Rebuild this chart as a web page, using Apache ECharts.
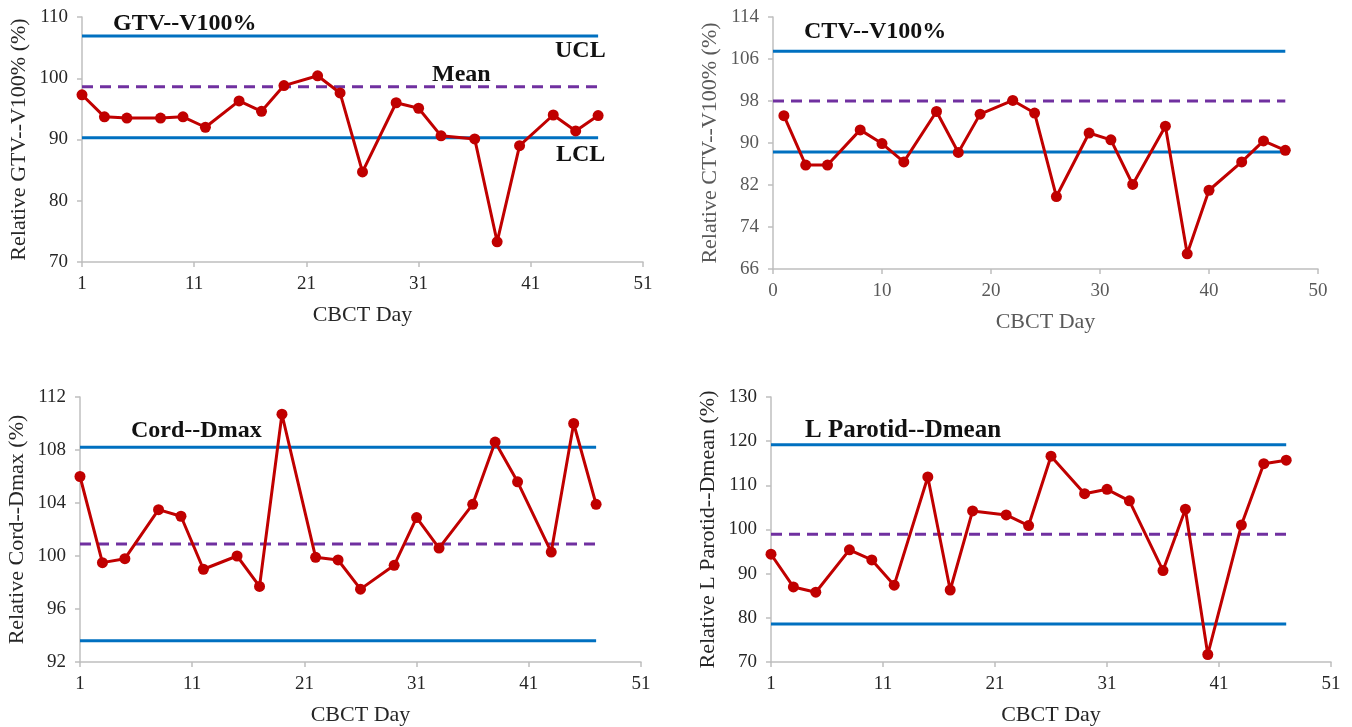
<!DOCTYPE html>
<html>
<head>
<meta charset="utf-8">
<title>CBCT control charts</title>
<script src="https://cdn.jsdelivr.net/npm/echarts@6/dist/echarts.min.js"></script>
<style>
    html, body { margin: 0; padding: 0; background: #fff; }
    #main { width: 1352px; height: 727px; }
</style>
</head>
<body>
<div id="main"></div>
<script>
// CBCT day of each measurement
var days = [1, 3, 5, 8, 10, 12, 15, 17, 19, 22, 24, 26, 29, 31, 33, 36, 38, 40, 43, 45, 47];

// relative values (%)
var gtvV100 = [97.3, 93.7, 93.5, 93.5, 93.7, 92.0, 96.3, 94.6, 98.8, 100.4, 97.6, 84.7, 96.0, 95.1, 90.6, 90.1, 73.3, 89.0, 94.0, 91.4, 93.9];
var ctvV100 = [95.2, 85.8, 85.8, 92.5, 89.9, 86.4, 96.0, 88.2, 95.5, 98.1, 95.7, 79.8, 91.9, 90.6, 82.1, 93.2, 68.9, 81.0, 86.4, 90.4, 88.6];
var cordDmax = [106.0, 99.5, 99.8, 103.5, 103.0, 99.0, 100.0, 97.7, 110.7, 99.9, 99.7, 97.5, 99.3, 102.9, 100.6, 103.9, 108.6, 105.6, 100.3, 110.0, 103.9];
var lParotidDmean = [94.4, 87.0, 85.8, 95.4, 93.1, 87.4, 111.9, 86.3, 104.2, 103.3, 100.9, 116.6, 108.1, 109.1, 106.5, 90.7, 104.6, 71.7, 101.0, 114.9, 115.7];

// control limits: UCL, Mean, LCL
var gtvLimits = [106.9, 98.6, 90.3];
var ctvLimits = [107.5, 98.0, 88.3];
var cordLimits = [108.2, 100.9, 93.6];
var parotidLimits = [119.2, 98.9, 78.6];

// axis ranges [min, max, interval]
var xRanges = [[1, 51, 10], [0, 50, 10], [1, 51, 10], [1, 51, 10]];
var yRanges = [[70, 110, 10], [66, 114, 8], [92, 112, 4], [70, 130, 10]];

var titles = ['GTV--V100%', 'CTV--V100%', 'Cord--Dmax', 'L Parotid--Dmean'];
var yNames = ['Relative GTV--V100% (%)', 'Relative CTV--V100% (%)', 'Relative Cord--Dmax (%)', 'Relative L Parotid--Dmean (%)'];

var FONT = 'Liberation Serif';
var grids = [
    {left: 82, top: 17, width: 561, height: 245},
    {left: 773, top: 17, width: 545, height: 252},
    {left: 80, top: 397, width: 561, height: 266},
    {left: 771, top: 397, width: 560, height: 266}
];
var textColors = ['#262626', '#595959', '#262626', '#262626'];
var allValues = [gtvV100, ctvV100, cordDmax, lParotidDmean];
var allLimits = [gtvLimits, ctvLimits, cordLimits, parotidLimits];

var xAxes = [], yAxes = [], series = [];

for (var i = 0; i < 4; i++) {
    xAxes.push({
        type: 'value', gridIndex: i,
        min: xRanges[i][0], max: xRanges[i][1], interval: xRanges[i][2],
        name: 'CBCT Day', nameLocation: 'middle', nameGap: 42,
        nameTextStyle: {fontFamily: FONT, fontSize: 22, color: textColors[i]},
        axisLine: {show: true, lineStyle: {color: '#bfbfbf', width: 1.5}},
        axisTick: {show: true, length: 5, lineStyle: {color: '#bfbfbf', width: 1.5}},
        axisLabel: {fontFamily: FONT, fontSize: 19, color: textColors[i], margin: 13},
        splitLine: {show: false}
    });
    yAxes.push({
        type: 'value', gridIndex: i,
        min: yRanges[i][0], max: yRanges[i][1], interval: yRanges[i][2],
        name: yNames[i], nameLocation: 'middle', nameGap: 52,
        nameTextStyle: {fontFamily: FONT, fontSize: 22, color: textColors[i]},
        axisLine: {show: true, lineStyle: {color: '#bfbfbf', width: 1.5}},
        axisTick: {show: true, length: 5, lineStyle: {color: '#bfbfbf', width: 1.5}},
        axisLabel: {fontFamily: FONT, fontSize: 19, color: textColors[i], margin: 14},
        splitLine: {show: false}
    });

    var x0 = xRanges[i][0];
    var xEnd = days[days.length - 1];
    var lim = allLimits[i];
    // UCL / LCL (blue), mean (purple dashed)
    [[lim[0], '#0070c0', 'solid'], [lim[2], '#0070c0', 'solid'], [lim[1], '#7030a0', [11, 7]]].forEach(function (l) {
        series.push({
            type: 'line', xAxisIndex: i, yAxisIndex: i,
            data: [[x0, l[0]], [xEnd, l[0]]],
            symbol: 'none', silent: true,
            lineStyle: {color: l[1], width: 3, type: l[2]}
        });
    });
    // measurements
    series.push({
        type: 'line', xAxisIndex: i, yAxisIndex: i,
        data: days.map(function (d, k) { return [d, allValues[i][k]]; }),
        symbol: 'circle', symbolSize: 11,
        itemStyle: {color: '#c00000'},
        lineStyle: {color: '#c00000', width: 3}
    });
}

function label(txt, x, y, size) {
    return {type: 'text', left: x, top: y,
        style: {text: txt, verticalAlign: 'middle', fontFamily: FONT,
            fontSize: size || 24, fontWeight: 'bold', fill: '#111'}};
}

var option = {
    animation: false,
    grid: grids,
    xAxis: xAxes,
    yAxis: yAxes,
    series: series,
    graphic: [
        label(titles[0], 113, 12),
        label('UCL', 555, 39),
        label('Mean', 432, 63),
        label('LCL', 556, 143),
        label(titles[1], 804, 20),
        label(titles[2], 131, 419),
        label(titles[3], 805, 418, 25)
    ]
};

var chart = echarts.init(document.getElementById('main'));
chart.setOption(option);
</script>
</body>
</html>
